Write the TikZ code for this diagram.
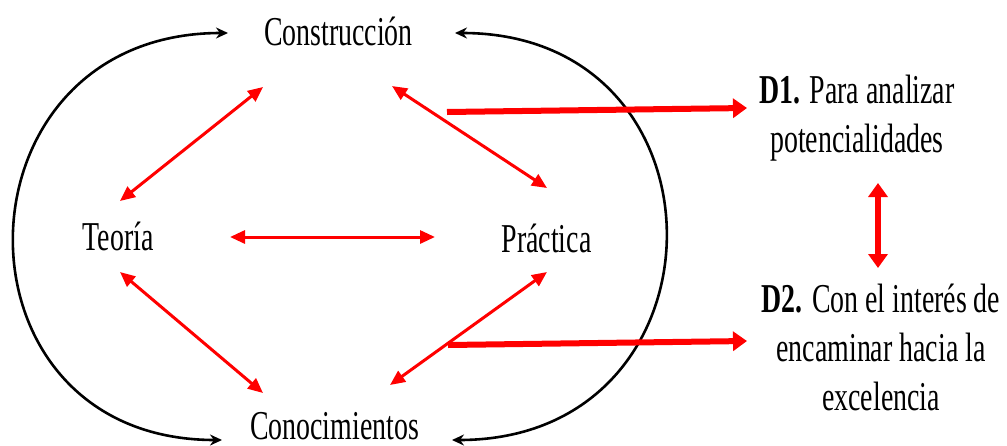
\documentclass[tikz,border=0pt]{standalone}
\usepackage{fontspec}
\setmainfont[FakeStretch=0.68]{Liberation Serif}
\usetikzlibrary{arrows.meta,calc}

\tikzset{
	lbl/.style={anchor=base,inner sep=0pt,font=\fontsize{20.5}{24.5}\selectfont},
	dlbl/.style={lbl,align=center},
	ciclo/.style={line width=1.3pt,>={Stealth[length=6pt,width=5.5pt]},<->},
	enlace/.style={red,line width=1.5pt,>={Triangle[length=7.5pt,width=6.5pt]},<->},
	salida/.style={red,line width=3pt,>={Triangle[length=7pt,width=9.5pt]}},
}

\begin{document}
\begin{tikzpicture}[x=0.5pt,y=-0.5pt]
				\useasboundingbox (0,0) rectangle (1007,445);
				
				\node[lbl] (C) at (338.5,45) {Construcción};
				\node[lbl] (T) at (118,250) {Teoría};
				\node[lbl] (P) at (546.5,252) {Práctica};
				\node[lbl] (K) at (334.5,439) {Conocimientos};
				
				\node[dlbl] (D1) at (857,152) {\textbf{D1.} Para analizar\\potencialidades};
				\node[dlbl] (D2) at (881,410) {\textbf{D2.} Con el interés de\\encaminar hacia la\\excelencia};
				
				\draw[ciclo] ($(K.base)+(-112.5,1)$) to[out=180,in=180,looseness=1.76] ($(C.base)+(-110.5,-12)$);
				\draw[ciclo] ($(C.base)+(116.5,-12)$) to[out=0,in=0,looseness=1.77] ($(K.base)+(117.5,1)$);
				
				\draw[enlace] ($(C.base)+(-75.5,42)$) -- ($(T.base)+(2,-49)$);
				\draw[enlace] ($(C.base)+(53.5,41)$) -- ($(P.base)+(0.5,-64)$);
				\draw[enlace] ($(T.base)+(112,-13)$) -- ($(P.base)+(-111.5,-15)$);
				\draw[enlace] ($(T.base)+(2,22)$) -- ($(K.base)+(-71.5,-46)$);
				\draw[enlace] ($(P.base)+(0.5,20)$) -- ($(K.base)+(55.5,-54)$);
				
				\draw[salida,->] ($(C.base)+(108.5,67)$) -- ($(D1.base)+(-110,-44)$);
				\draw[salida,->] ($(K.base)+(113.5,-94)$) -- ($(D2.base)+(-134,-69)$);
				\draw[salida,<->] ($(D1.base)+(21,31)$) -- ($(D2.base)+(-3,-142)$);
			\end{tikzpicture}
\end{document}
